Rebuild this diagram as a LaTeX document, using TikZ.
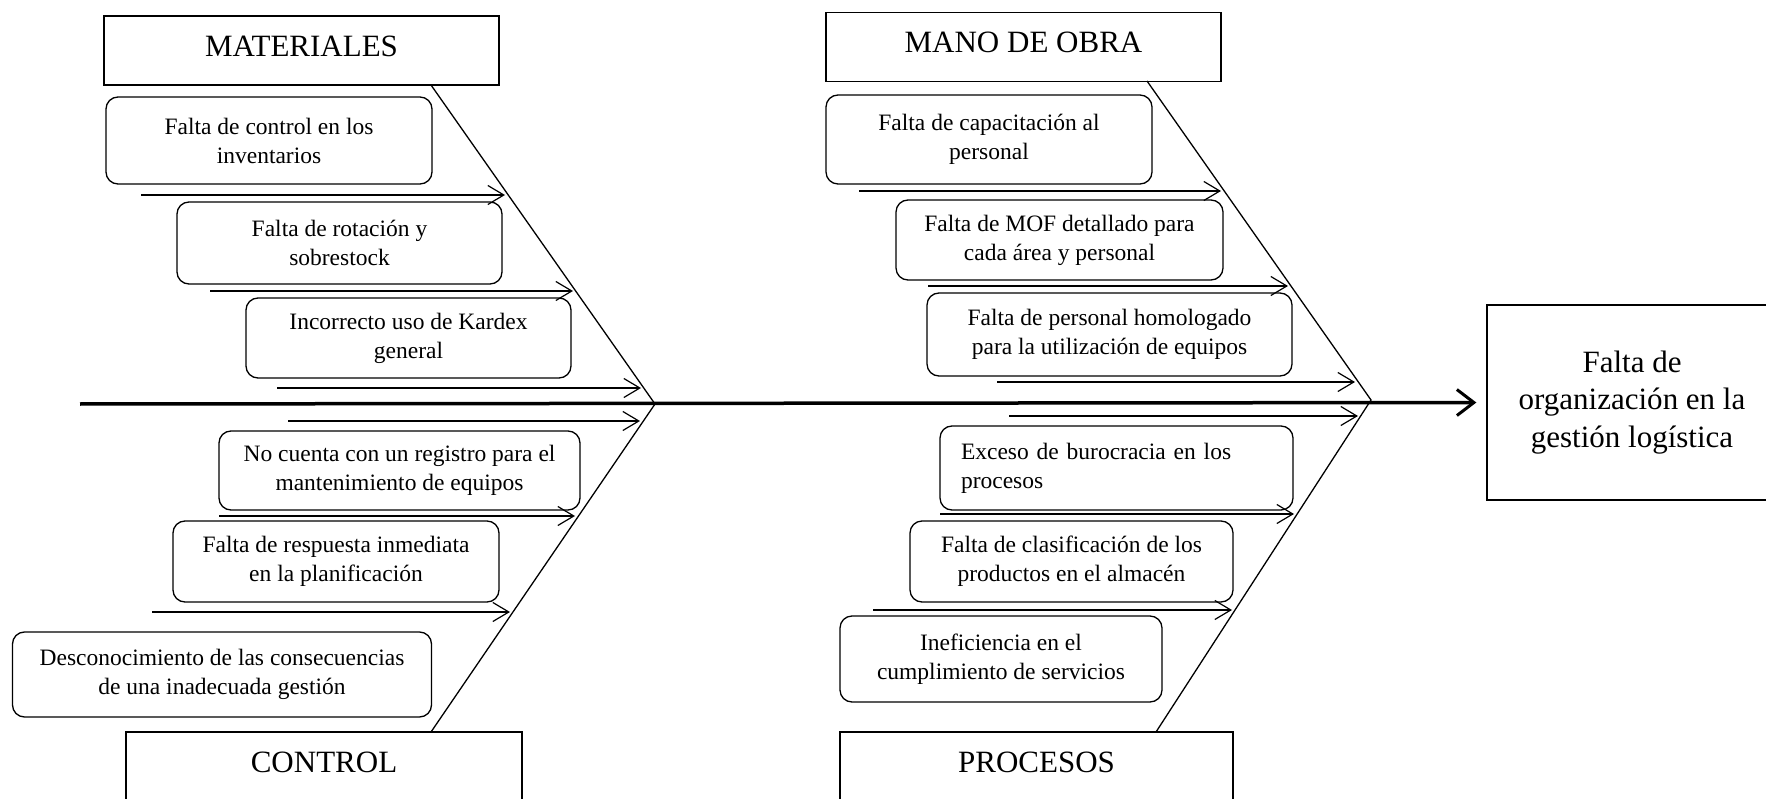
\documentclass[tikz,border=0pt]{standalone}
\usepackage{fontspec}
\setmainfont{Liberation Serif}
\usetikzlibrary{arrows.meta}
\tikzset{
  cat/.style={draw, line width=1.3pt, minimum height=69pt, inner sep=0pt, text height=21pt, text depth=9pt, font=\fontsize{31}{37}\selectfont},
  cause/.style={draw, line width=1.3pt, rounded corners=12pt, inner sep=0pt, align=center, font=\fontsize{23.5}{29}\selectfont},
  bone/.style={line width=1.3pt},
  feed/.style={line width=1.2pt, -{Straight Barb[length=16pt,width=19pt,line width=1.2pt]}},
  spine/.style={line width=3.5pt, -{Straight Barb[length=17pt,width=26pt,line width=3pt]}, shorten >=10pt},
}

\begin{document}
\begin{tikzpicture}[x=1pt,y=-1pt]
\useasboundingbox (0,0) rectangle (1766,799);
% categories
\node[cat, minimum width=395pt] (mat) at (301.5,50.5) {MATERIALES};
\node[cat, minimum width=395pt] (mano) at (1023.5,47) {MANO DE OBRA};
\node[cat, minimum width=396pt] (ctl) at (324,766.5) {CONTROL};
\node[cat, minimum width=393pt] (proc) at (1036.5,766.5) {PROCESOS};
\node[draw, line width=1.3pt, minimum width=290pt, minimum height=195pt, align=center, font=\fontsize{31}{37.5}\selectfont] (head) at (1632,402.5) {Falta de\\organización en la\\gestión logística};
% spine and bones
\coordinate (tail) at (80,404);
\coordinate (jL) at (655,404);
\coordinate (jR) at (1371,400);
\coordinate (matF) at (431,85);
\coordinate (ctlF) at (431,732);
\coordinate (manoF) at (1147,81);
\coordinate (procF) at (1156,732);
\draw[spine] (tail) -- (head.west);
\draw[bone] (matF) -- (jL) -- (ctlF);
\draw[bone] (manoF) -- (jR) -- (procF);
% causes, left
\node[cause, minimum width=326pt, minimum height=87pt] (c1) at (269,140.5) {Falta de control en los\\inventarios};
\node[cause, minimum width=325pt, minimum height=82pt] (c2) at (339.5,243) {Falta de rotación y\\sobrestock};
\node[cause, minimum width=325pt, minimum height=80pt] (c3) at (408.5,338) {Incorrecto uso de Kardex\\general};
\node[cause, minimum width=361pt, minimum height=79pt] (c4) at (399.5,470.5) {No cuenta con un registro para el\\mantenimiento de equipos};
\node[cause, minimum width=326pt, minimum height=81pt] (c5) at (336,561.5) {Falta de respuesta inmediata\\en la planificación};
\node[cause, minimum width=419pt, minimum height=85pt] (c6) at (222,674.5) {Desconocimiento de las consecuencias\\de una inadecuada gestión};
% causes, right
\node[cause, minimum width=326pt, minimum height=89pt] (m1) at (989,139.5) {Falta de capacitación al\\personal};
\node[cause, minimum width=327pt, minimum height=80pt] (m2) at (1059.5,240) {Falta de MOF detallado para\\cada área y personal};
\node[cause, minimum width=365pt, minimum height=83pt] (m3) at (1109.5,334.5) {Falta de personal homologado\\para la utilización de equipos};
\node[cause, minimum width=353pt, minimum height=84pt, text width=311pt, align=left] (p1) at (1116.5,468) {Exceso de burocracia en los\\procesos};
\node[cause, minimum width=323pt, minimum height=81pt] (p2) at (1071.5,561.5) {Falta de clasificación de los\\productos en el almacén};
\node[cause, minimum width=322pt, minimum height=86pt] (p3) at (1001,659) {Ineficiencia en el\\cumplimiento de servicios};
% feeding arrows
\foreach \n/\xa/\xb/\y in {1/141/505/195, 2/210/573/291, 3/277/641/388, 4/288/640/421, 5/219/575/516, 6/152/510/612,
  7/859/1221/191, 8/928/1288/286, 9/997/1355/382, 10/1009/1358/416, 11/940/1294/514, 12/873/1232/610} {
  \coordinate (f\n) at (\xa,\y);
  \coordinate (t\n) at (\xb,\y);
  \draw[feed] (f\n) -- (t\n);
}
\end{tikzpicture}
\end{document}
